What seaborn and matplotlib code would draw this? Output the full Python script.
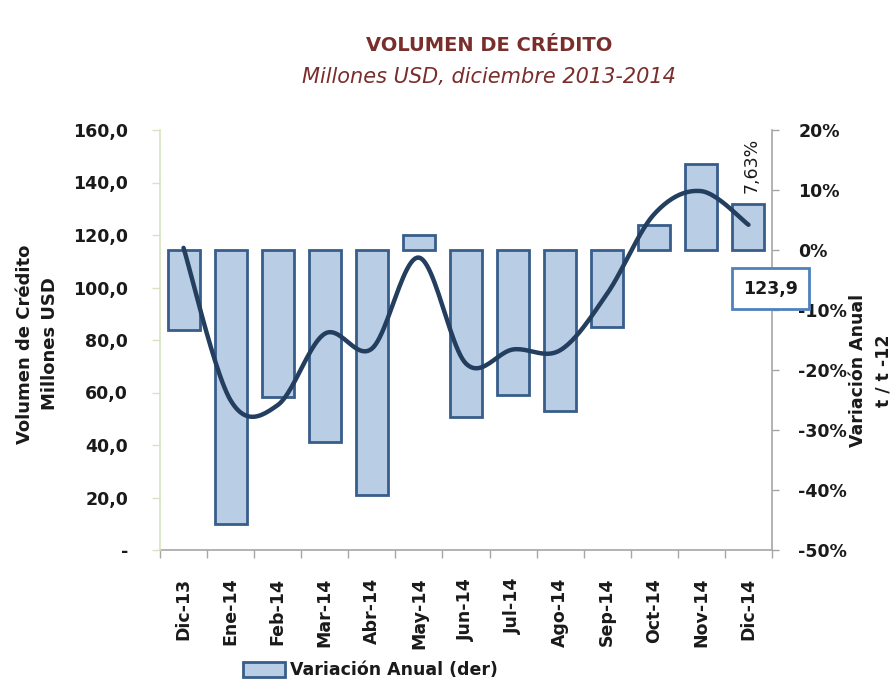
import numpy as np
import pandas as pd
import matplotlib
matplotlib.use("Agg")
import matplotlib.pyplot as plt
import seaborn as sns
from matplotlib.patches import Patch
from matplotlib.ticker import FuncFormatter

# data
meses = ['Dic-13', 'Ene-14', 'Feb-14', 'Mar-14', 'Abr-14', 'May-14', 'Jun-14',
         'Jul-14', 'Ago-14', 'Sep-14', 'Oct-14', 'Nov-14', 'Dic-14']
volumen = [115.1, 57.0, 55.2, 82.4, 76.7, 111.4, 71.0, 76.4, 76.1, 97.7, 128.0, 136.7, 123.9]
variacion = [-13.3, -45.6, -24.5, -32.0, -40.8, 2.5, -27.8, -24.2, -26.9, -12.8, 4.1, 14.4, 7.63]

sns.set_style('white')
plt.rcParams['font.family'] = ['DejaVu Sans']
plt.rcParams['font.weight'] = 'bold'

df = pd.DataFrame({'Mes': meses, 'Volumen': volumen, 'Variacion': variacion})


def suavizar(xs, ys, n=24):
    # excel-like smoothed line (catmull-rom through the points)
    pts = np.column_stack([xs, ys]).astype(float)
    ext = np.vstack([pts[0], pts, pts[-1]])
    t = np.linspace(0, 1, n, endpoint=False)[:, None]
    segs = []
    for i in range(1, len(ext) - 2):
        p0, p1, p2, p3 = ext[i - 1:i + 3]
        segs.append(0.5 * (2 * p1 + (p2 - p0) * t + (2 * p0 - 5 * p1 + 4 * p2 - p3) * t ** 2
                           + (-p0 + 3 * p1 - 3 * p2 + p3) * t ** 3))
    segs.append(pts[-1:])
    return np.vstack(segs)


fig = plt.figure(figsize=(8.93, 6.84), dpi=100)
ax = fig.add_axes([160 / 893, 134 / 684, 612 / 893, 420 / 684])

bar_face = '#b9cde5'
bar_edge = '#385d8a'
line_col = '#233e5e'
txt = '#1a1a1a'

# bars -> right axis (variacion anual)
sns.barplot(data=df, x='Mes', y='Variacion', ax=ax, color=bar_face, saturation=1,
            edgecolor=bar_edge, linewidth=2, width=0.68)
ax.set_xlabel('')
ax.set_ylabel('')

# line -> left axis (volumen)
ax2 = ax.twinx()
curva = suavizar(np.arange(len(meses)), volumen)
ax2.plot(curva[:, 0], curva[:, 1], color=line_col, lw=3.2, solid_capstyle='round')

# axis for bars goes right, axis for line goes left
ax.set_ylim(-50, 20)
ax.set_xlim(-0.5, 12.5)
ax.yaxis.tick_right()
ax.set_yticks(np.arange(-50, 21, 10))
ax.yaxis.set_major_formatter(FuncFormatter(lambda v, p: f'{v:.0f}%'))
ax.tick_params(axis='y', left=False, right=True, labelleft=False, labelright=True,
               direction='out', length=5, width=1, color='#a6a6a6',
               pad=14, labelsize=12.5, labelcolor=txt)
ax.set_xticks(range(len(meses)))
ax.set_xticklabels(meses, rotation=90, fontsize=12.5, color=txt)
ax.tick_params(axis='x', which='major', length=0, pad=20)
ax.set_xticks(np.arange(-0.5, len(meses)), minor=True)
ax.tick_params(axis='x', which='minor', bottom=True, length=6, width=1, color='#a6a6a6')
for s in ['top', 'left']:
    ax.spines[s].set_visible(False)
for s in ['right', 'bottom']:
    ax.spines[s].set_color('#a6a6a6')
    ax.spines[s].set_linewidth(1.2)

ax2.set_ylim(0, 160)
ax2.yaxis.tick_left()
ax2.set_yticks(np.arange(0, 161, 20))
ax2.yaxis.set_major_formatter(FuncFormatter(lambda v, p: '-' if v == 0 else f'{v:.1f}'.replace('.', ',')))
ax2.tick_params(axis='y', left=True, right=False, labelleft=True, labelright=False,
                direction='out', length=6, width=1,
                color='#d7e4bd', pad=17, labelsize=12.5, labelcolor=txt)
for s in ['top', 'right', 'bottom']:
    ax2.spines[s].set_visible(False)
ax2.spines['left'].set_visible(True)
ax2.spines['left'].set_color('#d7e4bd')
ax2.spines['left'].set_linewidth(1.2)

# data labels on the last month
ax.annotate(f'{variacion[-1]:.2f}%'.replace('.', ','), xy=(12, variacion[-1]),
            xytext=(2, 8), textcoords='offset points', rotation=90, ha='center', va='bottom',
            fontsize=12.5, fontweight='normal', color=txt)
ax2.annotate(f'{volumen[-1]:.1f}'.replace('.', ','), xy=(12, volumen[-1]),
             xytext=(16, -46), textcoords='offset points', ha='center', va='center',
             fontsize=12.5, fontweight='bold', color=txt,
             bbox=dict(boxstyle='square,pad=0.65', fc='white', ec='#4f81bd', lw=2))

# titles and axis titles
fig.text(0.548, 0.934, 'VOLUMEN DE CRÉDITO', ha='center', va='center', fontsize=14,
         fontweight='bold', color='#7a2e2c')
fig.text(0.548, 0.888, 'Millones USD, diciembre 2013-2014', ha='center', va='center',
         fontsize=15, fontweight='normal', style='italic', color='#7a2e2c')
fig.text(0.042, 0.497, 'Volumen de Crédito\nMillones USD', rotation=90, ha='center',
         va='center', fontsize=13, color=txt, linespacing=1.55)
fig.text(0.975, 0.458, 'Variación Anual\nt / t -12', rotation=90, ha='center', va='center',
         fontsize=12.5, color=txt, linespacing=1.5)

handle = Patch(facecolor=bar_face, edgecolor=bar_edge, linewidth=2)
fig.legend([handle], ['Variación Anual (der)'], loc='center', bbox_to_anchor=(0.415, 0.02),
           frameon=False, prop={'weight': 'bold', 'size': 12.5}, handlelength=2.4,
           handleheight=1.0, handletextpad=0.3, labelcolor=txt)

fig.savefig('out.png', dpi=100)
